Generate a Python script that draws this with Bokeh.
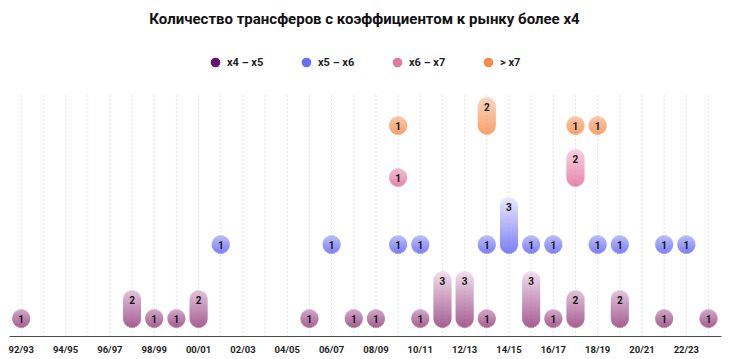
import math
from bokeh.plotting import figure
from bokeh.models import Range1d, FixedTicker, ColumnDataSource, Legend, LegendItem, Label
from bokeh.embed import file_html
from bokeh.resources import INLINE
from bokeh.core.properties import value

# ---------------- data ----------------
seasons = ["92/93", "93/94", "94/95", "95/96", "96/97", "97/98", "98/99", "99/00",
           "00/01", "01/02", "02/03", "03/04", "04/05", "05/06", "06/07", "07/08",
           "08/09", "09/10", "10/11", "11/12", "12/13", "13/14", "14/15", "15/16",
           "16/17", "17/18", "18/19", "19/20", "20/21", "21/22", "22/23", "23/24"]
tick_labels = ["92/93", "94/95", "96/97", "98/99", "00/01", "02/03", "04/05", "06/07",
               "08/09", "10/11", "12/13", "14/15", "16/17", "18/19", "20/21", "22/23"]

categories = ["x4 – x5", "x5 – x6", "x6 – x7", "> x7"]

x4_x5_seasons = ["92/93", "97/98", "98/99", "99/00", "00/01", "05/06", "07/08", "08/09",
                 "10/11", "11/12", "12/13", "13/14", "15/16", "16/17", "17/18", "19/20",
                 "21/22", "23/24"]
x4_x5_counts = [1, 2, 1, 1, 2, 1, 1, 1, 1, 3, 3, 1, 3, 1, 2, 2, 1, 1]

x5_x6_seasons = ["01/02", "06/07", "09/10", "10/11", "13/14", "14/15", "15/16", "16/17",
                 "18/19", "19/20", "21/22", "22/23"]
x5_x6_counts = [1, 1, 1, 1, 1, 3, 1, 1, 1, 1, 1, 1]

x6_x7_seasons = ["09/10", "17/18"]
x6_x7_counts = [1, 2]

gt_x7_seasons = ["09/10", "13/14", "17/18", "18/19"]
gt_x7_counts = [1, 2, 1, 1]

title_text = "Количество трансферов с коэффициентом к рынку более x4"

series = [(x4_x5_seasons, x4_x5_counts), (x5_x6_seasons, x5_x6_counts),
          (x6_x7_seasons, x6_x7_counts), (gt_x7_seasons, gt_x7_counts)]

# ---------------- layout / style ----------------
FRAME_W, FRAME_H = 712, 336
B_L, B_R, B_B = 9, 9, 23
X0, X1 = -0.528, 31.586
PX = FRAME_W / (X1 - X0)          # pixels per season
ROW_BASE = [9, 83, 150, 202]      # px above the axis for each category row
GRID_TOP = 244                    # px above the axis where the dotted lines start
DIAM, STEP = 18.0, 19.0
R = DIAM / 2.0
FONT = "Roboto"

STYLE = [
    dict(dark="#872a6d", light="#ecd0e6", legend="#6a1272"),
    dict(dark="#5155f0", light="#e0e0fc", legend="#6670f5"),
    dict(dark="#dc5f8e", light="#fbdbe7", legend="#e2799f"),
    dict(dark="#f2803b", light="#fddcc6", legend="#f78b4e"),
]


def hex2rgb(h):
    h = h.lstrip("#")
    return tuple(int(h[i:i + 2], 16) for i in (0, 2, 4))


def mix(c1, c2, t):
    a, b = hex2rgb(c1), hex2rgb(c2)
    return "#%02x%02x%02x" % tuple(int(round(a[i] + (b[i] - a[i]) * t)) for i in range(3))


p = figure(frame_width=FRAME_W, frame_height=FRAME_H,
           x_range=Range1d(X0, X1), y_range=Range1d(0, FRAME_H),
           output_backend="svg", toolbar_location=None, y_axis_location=None,
           min_border_left=B_L, min_border_right=B_R, min_border_top=0,
           min_border_bottom=B_B)
p.outline_line_color = None
p.background_fill_color = "white"
p.border_fill_color = "white"
p.xgrid.visible = False
p.ygrid.visible = False

xa = p.xaxis[0]
xa.ticker = FixedTicker(ticks=[seasons.index(s) for s in tick_labels])
xa.major_label_overrides = {seasons.index(s): s for s in tick_labels}
xa.major_tick_line_color = None
xa.minor_tick_line_color = None
xa.major_tick_out = 0
xa.major_tick_in = 0
xa.minor_tick_out = 0
xa.minor_tick_in = 0
xa.axis_line_color = "#4a4a4a"
xa.axis_line_width = 1
xa.major_label_text_font = FONT
xa.major_label_text_font_style = "bold"
xa.major_label_text_font_size = "9.5px"
xa.major_label_text_color = "#1e1e1e"
xa.major_label_standoff = 7

# dotted season lines
gx = list(range(len(seasons)))
p.segment(x0=gx, y0=[0] * len(gx), x1=gx, y1=[GRID_TOP] * len(gx),
          line_color="#c8c8c8", line_dash="1 3", line_width=1)

legend_items = []
for ci, (cat, (ss, cs)) in enumerate(zip(categories, series)):
    st = STYLE[ci]
    base = ROW_BASE[ci]
    xs = [seasons.index(s) for s in ss]

    # legend proxy: zero-sized in the plot, the legend sizes its own swatch
    proxy = p.scatter(x=xs, y=[base + R] * len(xs), size=0, marker="circle",
                      fill_color=st["legend"], line_color=None)
    legend_items.append(LegendItem(label=cat, renderers=[proxy]))

    L, Rr, Bt, Tp, C = [], [], [], [], []
    tx, ty, tt = [], [], []
    for x, n in zip(xs, cs):
        h = DIAM + STEP * (n - 1)
        t_top = 0.58 + 0.21 * (n - 1)
        nb = int(round(h))
        for b in range(nb):
            yc = b + 0.5
            if yc < R:
                dy = R - yc
            elif yc > h - R:
                dy = yc - (h - R)
            else:
                dy = 0.0
            hw = math.sqrt(max(R * R - dy * dy, 0.0)) / PX
            L.append(x - hw)
            Rr.append(x + hw)
            Bt.append(base + b)
            Tp.append(base + b + 1)
            C.append(mix(st["dark"], st["light"], (yc / h) * t_top))
        tx.append(x)
        ty.append(base + h - R)
        tt.append(str(n))
    src = ColumnDataSource(dict(left=L, right=Rr, bottom=Bt, top=Tp, color=C))
    p.quad(left="left", right="right", bottom="bottom", top="top", fill_color="color",
           fill_alpha=1.0, line_color=None, source=src)
    p.text(x=tx, y=ty, text=tt, text_font=value(FONT), text_font_style="bold",
           text_font_size="10px", text_align="center", text_baseline="middle",
           text_color="#161616")

legend = Legend(items=legend_items, orientation="horizontal", location=(194, 262),
                glyph_width=24, glyph_height=24, label_standoff=-1, label_width=57,
                label_height=24, spacing=10, padding=0, margin=0,
                border_line_color=None, background_fill_alpha=0,
                label_text_font=FONT, label_text_font_style="bold",
                label_text_font_size="11px", label_text_color="#1e1e1e")
p.add_layout(legend, "center")

p.add_layout(Label(x=355, y=318, x_units="screen", y_units="screen", text=title_text,
                   text_align="center", text_baseline="middle", text_font=FONT,
                   text_font_size="15px", text_font_style="bold", text_color="#111111"))

open("out.html", "w").write(file_html(p, INLINE))
